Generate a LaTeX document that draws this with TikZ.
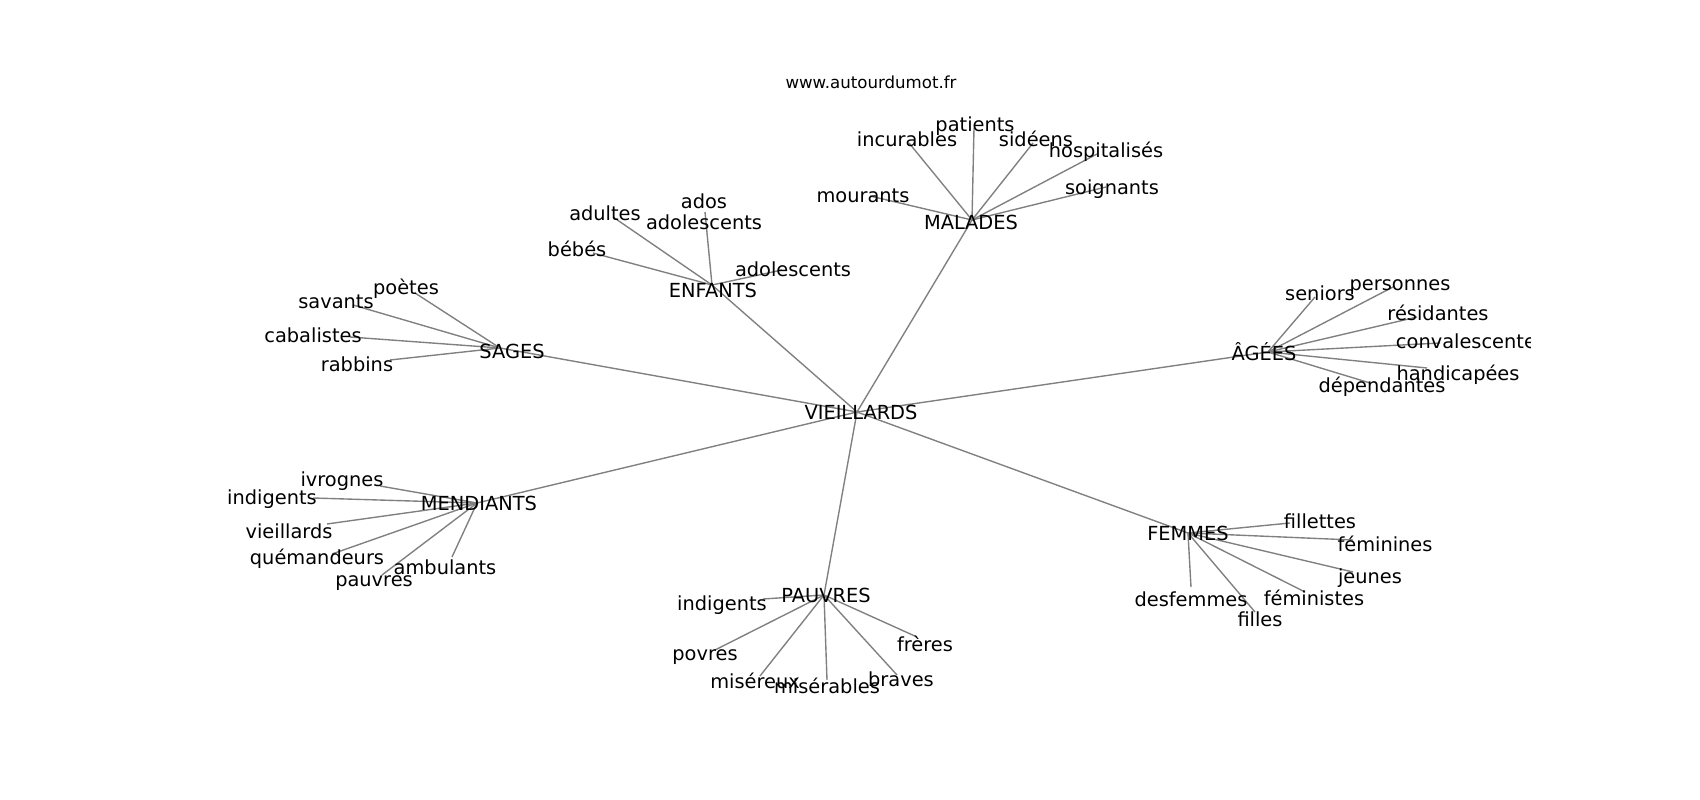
\documentclass[tikz,border=0pt]{standalone}
\usepackage{fontspec}
\setmainfont{DejaVu Sans}
\begin{document}
\begin{tikzpicture}[x=0.01in,y=-0.01in,
  edge/.style={draw=black!50, line width=1pt},
  lab/.style={inner sep=0pt, anchor=center, yshift=-1.5pt, font=\fontsize{14}{17}\selectfont, text height=10.6pt, text depth=3.4pt},
  ttl/.style={inner sep=0pt, anchor=center, font=\fontsize{12}{14}\selectfont, text height=9.1pt, text depth=2.9pt}]
\useasboundingbox (0,0) rectangle (1700,800);
% hub points
\coordinate (vie) at (857,412);
\coordinate (mal) at (972,220);
\coordinate (enf) at (712,285);
\coordinate (sag) at (500,348);
\coordinate (age) at (1268,352);
\coordinate (men) at (477,503);
\coordinate (pau) at (824,595);
\coordinate (fem) at (1188,533);
% leaf points: MALADES
\coordinate (patE) at (974,128);
\coordinate (incE) at (909,143);
\coordinate (sidE) at (1033,143);
\coordinate (hosE) at (1097,154);
\coordinate (soiE) at (1106,187);
\coordinate (mouE) at (870,196);
% ENFANTS
\coordinate (bebE) at (593,253);
\coordinate (aduE) at (613,217);
\coordinate (adoE) at (705,212);
\coordinate (adlE) at (782,270);
% SAGES
\coordinate (poeE) at (415,293);
\coordinate (savE) at (353,305);
\coordinate (cabE) at (350,337);
\coordinate (rabE) at (390,360);
% AGEES
\coordinate (senE) at (1315,297);
\coordinate (perE) at (1393,287);
\coordinate (resE) at (1417,317);
\coordinate (conE) at (1440,343);
\coordinate (hanE) at (1427,368);
\coordinate (depE) at (1370,383);
% MENDIANTS
\coordinate (ivrE) at (380,486);
\coordinate (indE) at (313,498);
\coordinate (vilE) at (327,524);
\coordinate (queE) at (332,554);
\coordinate (pauE) at (382,575);
\coordinate (ambE) at (452,557);
% PAUVRES
\coordinate (ind2E) at (763,599);
\coordinate (povE) at (715,650);
\coordinate (misE) at (760,676);
\coordinate (mibE) at (827,680);
\coordinate (braE) at (897,675);
\coordinate (freE) at (917,637);
% FEMMES
\coordinate (filtE) at (1290,523);
\coordinate (femiE) at (1353,540);
\coordinate (jeuE) at (1353,572);
\coordinate (femsE) at (1305,592);
\coordinate (filE) at (1255,612);
\coordinate (desE) at (1191,587);
% edges
\foreach \h in {mal,enf,sag,age,men,pau,fem} \draw[edge] (vie) -- (\h);
\foreach \l in {patE,incE,sidE,hosE,soiE,mouE} \draw[edge] (mal) -- (\l);
\foreach \l in {bebE,aduE,adoE,adlE} \draw[edge] (enf) -- (\l);
\foreach \l in {poeE,savE,cabE,rabE} \draw[edge] (sag) -- (\l);
\foreach \l in {senE,perE,resE,conE,hanE,depE} \draw[edge] (age) -- (\l);
\foreach \l in {ivrE,indE,vilE,queE,pauE,ambE} \draw[edge] (men) -- (\l);
\foreach \l in {ind2E,povE,misE,mibE,braE,freE} \draw[edge] (pau) -- (\l);
\foreach \l in {filtE,femiE,jeuE,femsE,filE,desE} \draw[edge] (fem) -- (\l);
% title
\node[ttl] (title) at (871,84) {www.autourdumot.fr};
% hub labels
\node[lab] (vieL) at (861,412) {VIEILLARDS};
\node[lab] (malL) at (971,222) {MALADES};
\node[lab] (enfL) at (713,290) {ENFANTS};
\node[lab] (sagL) at (512,351) {SAGES};
\node[lab] (ageL) at (1264,353) {ÂGÉES};
\node[lab] (menL) at (479,503) {MENDIANTS};
\node[lab] (pauL) at (826,595) {PAUVRES};
\node[lab] (femL) at (1188,533) {FEMMES};
% MALADES leaves
\node[lab] (patL) at (975,124) {patients};
\node[lab] (incL) at (907,139) {incurables};
\node[lab] (sidL) at (1036,139) {sidéens};
\node[lab] (hosL) at (1106,150) {hospitalisés};
\node[lab] (soiL) at (1112,187) {soignants};
\node[lab] (mouL) at (863,195) {mourants};
% ENFANTS leaves
\node[lab] (bebL) at (577,249) {bébés};
\node[lab] (aduL) at (605,213) {adultes};
\node[lab] (adoL) at (704,201) {ados};
\node[lab] (adoL2) at (704,222) {adolescents};
\node[lab] (adlL) at (793,269) {adolescents};
% SAGES leaves
\node[lab] (poeL) at (406,287) {poètes};
\node[lab] (savL) at (336,301) {savants};
\node[lab] (cabL) at (313,335) {cabalistes};
\node[lab] (rabL) at (357,364) {rabbins};
% AGEES leaves
\node[lab] (senL) at (1320,293) {seniors};
\node[lab] (perL) at (1400,283) {personnes};
\node[lab] (resL) at (1438,313) {résidantes};
\begin{scope}
\clip (0,0) rectangle (1530,800);
\node[lab] (conL) at (1471,341) {convalescentes};
\end{scope}
\node[lab] (hanL) at (1458,373) {handicapées};
\node[lab] (depL) at (1382,385) {dépendantes};
% MENDIANTS leaves
\node[lab] (ivrL) at (342,479) {ivrognes};
\node[lab] (indL) at (272,497) {indigents};
\node[lab] (vilL) at (289,531) {vieillards};
\node[lab] (queL) at (317,557) {quémandeurs};
\node[lab] (pauvL) at (374,579) {pauvres};
\node[lab] (ambL) at (445,567) {ambulants};
% PAUVRES leaves
\node[lab] (ind2L) at (722,603) {indigents};
\node[lab] (povL) at (705,653) {povres};
\node[lab] (misL) at (755,681) {miséreux};
\node[lab] (mibL) at (827,686) {misérables};
\node[lab] (braL) at (901,679) {braves};
\node[lab] (freL) at (925,644) {frères};
% FEMMES leaves
\node[lab] (filtL) at (1320,521) {fillettes};
\node[lab] (femiL) at (1385,544) {féminines};
\node[lab] (jeuL) at (1370,576) {jeunes};
\node[lab] (femsL) at (1314,598) {féministes};
\node[lab] (filL) at (1260,619) {filles};
\node[lab] (desL) at (1191,599) {desfemmes};
\end{tikzpicture}
\end{document}
